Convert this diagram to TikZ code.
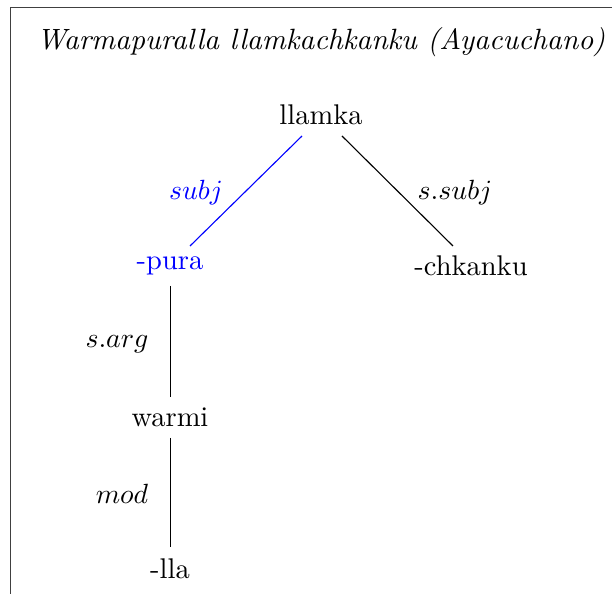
\documentclass[tikz,border=0pt]{standalone}
\begin{document}
\begin{tikzpicture}[x=0.36pt,y=-0.36pt,
  word/.style={anchor=base,inner sep=0pt,font=\fontsize{10.25}{12}\selectfont},
  titlestyle/.style={anchor=base,inner sep=0pt,font=\fontsize{10.56}{12}\selectfont\itshape},
  edge/.style={line width=0.4pt},
  frame/.style={draw=black!75,line width=0.55pt}]
\useasboundingbox (0,0) rectangle (612,594);
\draw[frame] (10.5,600) -- (10.5,7.5) -- (620,7.5);
\node[titlestyle] (title) at (321,50) {Warmapuralla llamkachkanku (Ayacuchano)};
\node[word] (llamka) at (321,125) {llamka};
\node[word,text=blue] (pura) at (170,270) {-pura};
\node[word] (chkanku) at (471,276) {-chkanku};
\node[word] (warmi) at (170,427) {warmi};
\node[word] (lla) at (170,579) {-lla};
\coordinate (a1) at (302,136); \coordinate (a2) at (190,246);
\coordinate (b1) at (342,136); \coordinate (b2) at (453,246);
\coordinate (c1) at (170.5,286); \coordinate (c2) at (170.5,397);
\coordinate (d1) at (170.5,438); \coordinate (d2) at (170.5,547);
\draw[edge,blue] (a1) -- (a2);
\draw[edge] (b1) -- (b2);
\draw[edge] (c1) -- (c2);
\draw[edge] (d1) -- (d2);
\node[word,text=blue] (lsubj) at (196,200) {$subj$};
\node[word] (lssubj) at (455,200) {$s.subj$};
\node[word] (lsarg) at (117,348) {$s.arg$};
\node[word] (lmod) at (122,504) {$mod$};
\end{tikzpicture}
\end{document}
